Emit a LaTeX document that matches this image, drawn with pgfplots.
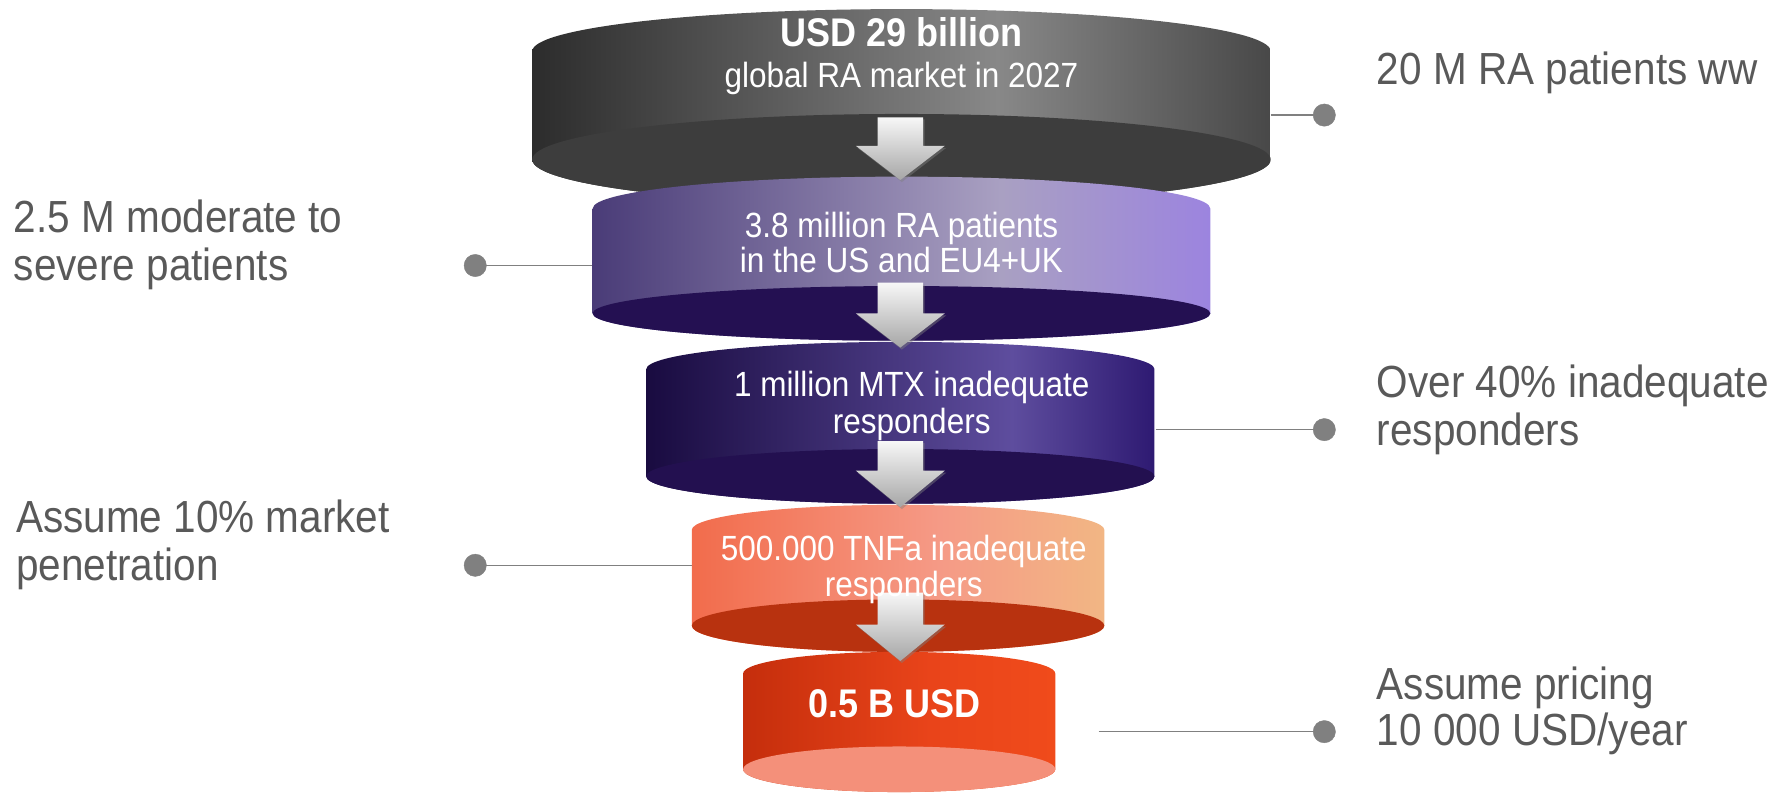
\documentclass[border=0pt]{standalone}
\usepackage{fontspec}
\setmainfont{Liberation Sans}[FakeStretch=0.9]
\usepackage{pgfplots}
\pgfplotsset{compat=1.18}
\usetikzlibrary{shadows}

\definecolor{gA}{HTML}{2C2C2C}\definecolor{gB}{HTML}{888888}\definecolor{gC}{HTML}{484848}\definecolor{gD}{HTML}{3D3D3D}
\definecolor{pA}{HTML}{4A3C78}\definecolor{pB}{HTML}{A9A0C2}\definecolor{pC}{HTML}{9C84DF}\definecolor{pD}{HTML}{241052}
\definecolor{vA}{HTML}{190B40}\definecolor{vB}{HTML}{5E4D9E}\definecolor{vC}{HTML}{2E1A72}\definecolor{vD}{HTML}{231050}
\definecolor{oA}{HTML}{F26C4C}\definecolor{oB}{HTML}{F59A86}\definecolor{oC}{HTML}{F2B684}\definecolor{oD}{HTML}{B8320F}
\definecolor{rA}{HTML}{C52E0C}\definecolor{rB}{HTML}{E9441A}\definecolor{rC}{HTML}{F04B1B}\definecolor{rD}{HTML}{F4907A}
\definecolor{aT}{HTML}{F7F7F7}\definecolor{aB}{HTML}{A6A6A6}
\definecolor{lab}{HTML}{595959}\definecolor{dot}{HTML}{808080}

% stops mapped into the inner 25bp..75bp band that TikZ fits to the path
\pgfdeclarehorizontalshading{sg}{100bp}{color(0bp)=(gA); color(25bp)=(gA); color(56.5bp)=(gB); color(75bp)=(gC); color(100bp)=(gC)}
\pgfdeclarehorizontalshading{sp}{100bp}{color(0bp)=(pA); color(25bp)=(pA); color(58bp)=(pB); color(75bp)=(pC); color(100bp)=(pC)}
\pgfdeclarehorizontalshading{sv}{100bp}{color(0bp)=(vA); color(25bp)=(vA); color(61bp)=(vB); color(75bp)=(vC); color(100bp)=(vC)}
\pgfdeclarehorizontalshading{so}{100bp}{color(0bp)=(oA); color(25bp)=(oA); color(55bp)=(oB); color(75bp)=(oC); color(100bp)=(oC)}
\pgfdeclarehorizontalshading{sr}{100bp}{color(0bp)=(rA); color(25bp)=(rA); color(55bp)=(rB); color(75bp)=(rC); color(100bp)=(rC)}

\begin{document}
\begin{tikzpicture}
\begin{axis}[name=ax, hide axis, scale only axis, disabledatascaling,
  x=1.13967bp, y=1.13967bp, xmin=0, xmax=1568, ymin=0, ymax=698,
  enlargelimits=false, clip=false]
\addplot[draw=none] coordinates {(0,0) (1568,698)};

% connector lines
\addplot[dot, line width=1.4bp] coordinates {(1115,597) (1162,597)};
\addplot[dot, line width=1.4bp] coordinates {(417,465) (520,465)};
\addplot[dot, line width=1.4bp] coordinates {(1014,321) (1162,321)};
\addplot[dot, line width=1.4bp] coordinates {(417,202) (607,202)};
\addplot[dot, line width=1.4bp] coordinates {(964,56) (1162,56)};

% level 1
\shade[shading=sg] (axis cs:467,653) arc[start angle=180,end angle=0,x radius=324,y radius=37] -- (axis cs:1115,558) arc[start angle=0,end angle=-180,x radius=324,y radius=40] -- cycle;
\fill[gD] (axis cs:791,558) ellipse[x radius=324,y radius=40];
% level 2
\shade[shading=sp] (axis cs:520,515) arc[start angle=180,end angle=0,x radius=271,y radius=28] -- (axis cs:1062,423) arc[start angle=0,end angle=-180,x radius=271,y radius=24] -- cycle;
\fill[pD] (axis cs:791,423) ellipse[x radius=271,y radius=24];
% level 3
\shade[shading=sv] (axis cs:567,374) arc[start angle=180,end angle=0,x radius=223,y radius=24] -- (axis cs:1013,280) arc[start angle=0,end angle=-180,x radius=223,y radius=24] -- cycle;
\fill[vD] (axis cs:790,280) ellipse[x radius=223,y radius=24];
% level 4
\shade[shading=so] (axis cs:607,233) arc[start angle=180,end angle=0,x radius=181,y radius=22] -- (axis cs:969,149) arc[start angle=0,end angle=-180,x radius=181,y radius=23] -- cycle;
\fill[oD] (axis cs:788,149) ellipse[x radius=181,y radius=23];
% level 5
\shade[shading=sr] (axis cs:652,107) arc[start angle=180,end angle=0,x radius=137,y radius=19] -- (axis cs:926,23) arc[start angle=0,end angle=-180,x radius=137,y radius=20] -- cycle;
\fill[rD] (axis cs:789,23) ellipse[x radius=137,y radius=20];

% arrows
\tikzset{arr/.style={top color=aT, bottom color=aB, drop shadow={opacity=0.45, shadow xshift=1.5bp, shadow yshift=-2bp}}}
\shade[arr] (axis cs:770,595) -- (axis cs:810,595) -- (axis cs:810,570) -- (axis cs:829,570) -- (axis cs:790,540) -- (axis cs:751,570) -- (axis cs:770,570) -- cycle;
\shade[arr] (axis cs:770,450) -- (axis cs:810,450) -- (axis cs:810,423) -- (axis cs:829,423) -- (axis cs:790,393) -- (axis cs:751,423) -- (axis cs:770,423) -- cycle;
\shade[arr] (axis cs:770,311) -- (axis cs:810,311) -- (axis cs:810,285) -- (axis cs:829,285) -- (axis cs:790,253) -- (axis cs:751,285) -- (axis cs:770,285) -- cycle;
\shade[arr] (axis cs:770,178) -- (axis cs:810,178) -- (axis cs:810,150) -- (axis cs:829,150) -- (axis cs:790,118) -- (axis cs:751,150) -- (axis cs:770,150) -- cycle;

% dots
\addplot[only marks, mark=*, mark size=11.2pt, dot, mark options={draw=dot, fill=dot}] coordinates {(1162,597) (417,465) (1162,321) (417,202) (1162,56)};

% inner texts
\tikzset{inn/.style={anchor=base, inner sep=0pt, text=white, font=\fontsize{35bp}{40bp}\selectfont},
         innb/.style={anchor=base, inner sep=0pt, text=white, font=\fontsize{40bp}{46bp}\selectfont\bfseries}}
\node[innb] at (axis cs:791,657) {USD 29 billion};
\node[inn] at (axis cs:791,621) {global RA market in 2027};
\node[inn] at (axis cs:791,490) {3.8 million RA patients};
\node[inn] at (axis cs:791,459) {in the US and EU4+UK};
\node[inn] at (axis cs:800,350) {1 million MTX inadequate};
\node[inn] at (axis cs:800,318) {responders};
\node[inn] at (axis cs:793,206) {500.000 TNFa inadequate};
\node[inn] at (axis cs:793,175) {responders};
\node[innb] at (axis cs:785,68) {0.5 B USD};

% side labels
\tikzset{lbl/.style={anchor=base west, inner sep=0pt, text=lab, font=\fontsize{45bp}{52bp}\selectfont}}
\node[lbl] at (axis cs:1208,624) {20 M RA patients ww};
\node[lbl] at (axis cs:12,494) {2.5 M moderate to};
\node[lbl] at (axis cs:12,452) {severe patients};
\node[lbl] at (axis cs:1208,349) {Over 40\% inadequate};
\node[lbl] at (axis cs:1208,307) {responders};
\node[lbl] at (axis cs:14,231) {Assume 10\% market};
\node[lbl] at (axis cs:14,189) {penetration};
\node[lbl] at (axis cs:1208,84) {Assume pricing};
\node[lbl] at (axis cs:1208,44) {10 000 USD/year};
\end{axis}
\pgfresetboundingbox
\path (ax.south west) rectangle (ax.north east);
\end{tikzpicture}
\end{document}
